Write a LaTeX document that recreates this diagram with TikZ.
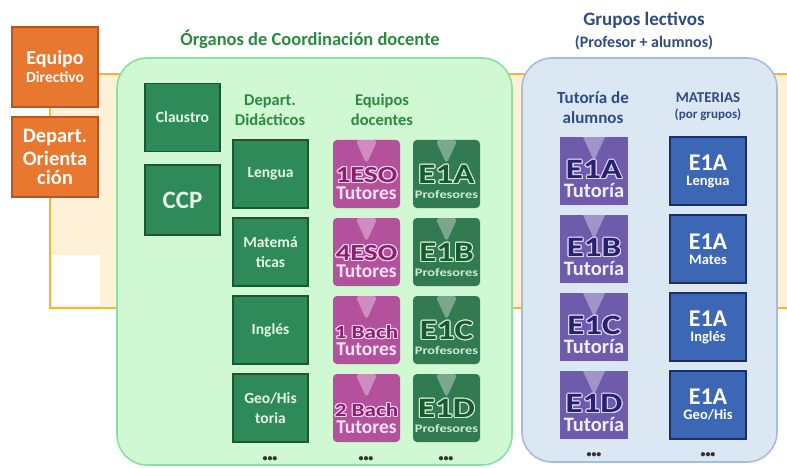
\documentclass[tikz,border=0pt]{standalone}
\usepackage{fontspec}
\setmainfont{Carlito}
\newfontfamily\ancha[FakeStretch=1.25]{Carlito}
\usepackage{contour}
\contourlength{1.1pt}
\usetikzlibrary{positioning,calc,backgrounds}

\definecolor{naranja}{HTML}{E8782F}
\definecolor{naranjaborde}{HTML}{B95520}
\definecolor{linea}{HTML}{F2B53A}
\definecolor{beige}{HTML}{FFF1D8}
\definecolor{verdeclaro}{HTML}{D0F8D2}
\definecolor{verdeborde}{HTML}{86E29E}
\definecolor{verdetit}{HTML}{2B8A3E}
\definecolor{verdeosc}{HTML}{2F8A5A}
\definecolor{verdeoscborde}{HTML}{1D5530}
\definecolor{verdetexto}{HTML}{E4F6E6}
\definecolor{rosa}{HTML}{B4519C}
\definecolor{rosaosc}{HTML}{8C1F70}
\definecolor{rosaclaro}{HTML}{F7D3EE}
\definecolor{bosque}{HTML}{327A52}
\definecolor{bosqueosc}{HTML}{1B5A2E}
\definecolor{bosqueclaro}{HTML}{CDEBD2}
\definecolor{azulclaro}{HTML}{DCE7F4}
\definecolor{azulborde}{HTML}{A6BCDA}
\definecolor{azultit}{HTML}{2E4C82}
\definecolor{morado}{HTML}{6F5BAC}
\definecolor{moradoosc}{HTML}{28216E}
\definecolor{moradoclaro}{HTML}{DCD4F4}
\definecolor{azulmat}{HTML}{3C67B4}
\definecolor{azulmatborde}{HTML}{1A2F66}

\newcommand{\fs}[1]{\fontsize{#1}{#1}\selectfont}
\newcommand{\alto}{\rule{0pt}{34pt}}

\begin{document}
\begin{tikzpicture}[x=1pt,y=-1pt,
  jefe/.style={draw=naranjaborde, fill=naranja, line width=1.6pt, minimum width=86, minimum height=80, align=center, text=white, font=\bfseries, inner sep=0pt},
  grande/.style={draw, rounded corners=30pt, line width=1.6pt},
  organo/.style={draw=verdeoscborde, fill=verdeosc, line width=1.6pt, minimum width=75, minimum height=68, align=center, text=verdetexto, font=\bfseries\fs{15.5}, inner sep=0pt},
  foto/.style={rounded corners=4pt, minimum width=67, minimum height=68, align=center, font=\bfseries, inner sep=0pt,
    path picture={\fill[white, opacity=.35] ($(path picture bounding box.north)+(-11pt,0pt)$) -- ++(22pt,0pt) -- ++(-11pt,-24pt) -- cycle;}},
  materia/.style={draw=azulmatborde, fill=azulmat, line width=1.6pt, minimum width=76, minimum height=68, align=center, text=white, font=\bfseries, inner sep=0pt},
  cabecera/.style={align=center, font=\bfseries, inner sep=0pt},
  puntos/.style={font=\bfseries\fs{10}, text=black!80}]

\useasboundingbox (0,0) rectangle (787,468);

% direccion
\node[jefe] (equipo) at (55,67) {\fs{20}Equipo\\[3pt]\fs{15.5}Directivo};
\node[jefe] (orienta) at (55,157) {\fs{20.5}Depart.\\[4pt]\fs{20.5}Orienta\\[4pt]\fs{20.5}ción};

% organos de coordinacion docente
\node[grande, draw=verdeborde, fill=verdeclaro, minimum width=395, minimum height=407] (organos) at (314.5,261.5) {};
\node[cabecera, text=verdetit, font=\bfseries\fs{18.5}] (torganos) at (310,39) {Órganos de Coordinación docente};

\node[organo] (claustro) at (182.5,117.5) {Claustro};
\node[organo, minimum height=70, font=\bfseries\fs{25}] (ccp) at (182.5,200) {CCP};

\node[cabecera, text=verdetit, font=\bfseries\fs{16.5}] (tdep) at (270,110) {Depart.\\[3pt]Didácticos};
\node[cabecera, text=verdetit, font=\bfseries\fs{16.5}] (teq) at (382,110) {Equipos\\[3pt]docentes};

\foreach \dep [count=\i] in {Lengua, {Matemá\\[4pt]ticas}, Inglés, {Geo/His\\[4pt]toria}}
  \node[organo] (dep\i) at (270.5,{174+78*(\i-1)}) {\dep};

\foreach \cur/\tam [count=\i] in {1ESO/23, 4ESO/23, 1 Bach/18.5, 2 Bach/18.5}
  \node[foto, fill=rosa] (tut\i) at (366.5,{174+78*(\i-1)})
    {\alto{\ancha\color{rosaosc}\fs{\tam}\contour{rosaclaro}{\cur}}\\[2pt]{\color{rosaclaro!60!white}\fs{19.5}Tutores}};

\foreach \gr [count=\i] in {A,B,C,D}
  \node[foto, fill=bosque] (prof\i) at (446.5,{174+78*(\i-1)})
    {\alto{\ancha\color{bosqueosc}\fs{28}\contour{bosqueclaro}{E1\gr}}\\[3pt]{\ancha\color{bosqueclaro}\fs{11.5}Profesores}};

\node[puntos] (p1) at (270,459) {•••};
\node[puntos] (p2) at (366,459) {•••};
\node[puntos] (p3) at (446,459) {•••};

% grupos lectivos
\node[grande, draw=azulborde, fill=azulclaro, minimum width=255, minimum height=404] (grupos) at (649.5,260) {};
\node[cabecera, text=azultit, font=\bfseries\fs{19}] (tgrupos) at (644,20) {Grupos lectivos};
\node[cabecera, text=azultit, font=\bfseries\fs{16}] (tgrupos2) at (644,43) {(Profesor + alumnos)};

\node[cabecera, text=azultit, font=\bfseries\fs{17}] (ttut) at (593,108) {Tutoría de\\[3pt]alumnos};
\node[cabecera, text=azultit, font=\bfseries\fs{15}] (tmat) at (708,98) {MATERIAS};
\node[cabecera, text=azultit, font=\bfseries\fs{13}, below=5pt of tmat] (tmat2) {(por grupos)};

\foreach \gr [count=\i] in {A,B,C,D}
  \node[foto, rounded corners=0pt, minimum width=68, fill=morado] (tuta\i) at (594,{171+78*(\i-1)})
    {\alto{\ancha\color{moradoosc}\fs{28}\contour{moradoclaro}{E1\gr}}\\[2pt]{\color{white!90!morado}\fs{20.5}Tutoría}};

\foreach \mat [count=\i] in {Lengua, Mates, Inglés, Geo/His}
  \node[materia] (mat\i) at (708,{171+78*(\i-1)}) {\fs{24}E1A\\[3pt]\fs{14.5}\mat};

\node[puntos] (p4) at (594,455) {•••};
\node[puntos] (p5) at (708,455) {•••};

% marco de fondo
\begin{scope}[on background layer]
  \fill[beige] (50,74) rectangle (787,308);
  \fill[white] (52,255) rectangle (100,305);
  \draw[linea, line width=2.5pt] (equipo.east |- 0,74) -- (787,74);
  \draw[linea, line width=2.5pt] (equipo.south -| 50,0) -- (orienta.north -| 50,0);
  \draw[linea, line width=2.5pt, line cap=round] (orienta.south -| 50,0) -- (50,308) -- (787,308);
\end{scope}
\end{tikzpicture}
\end{document}
